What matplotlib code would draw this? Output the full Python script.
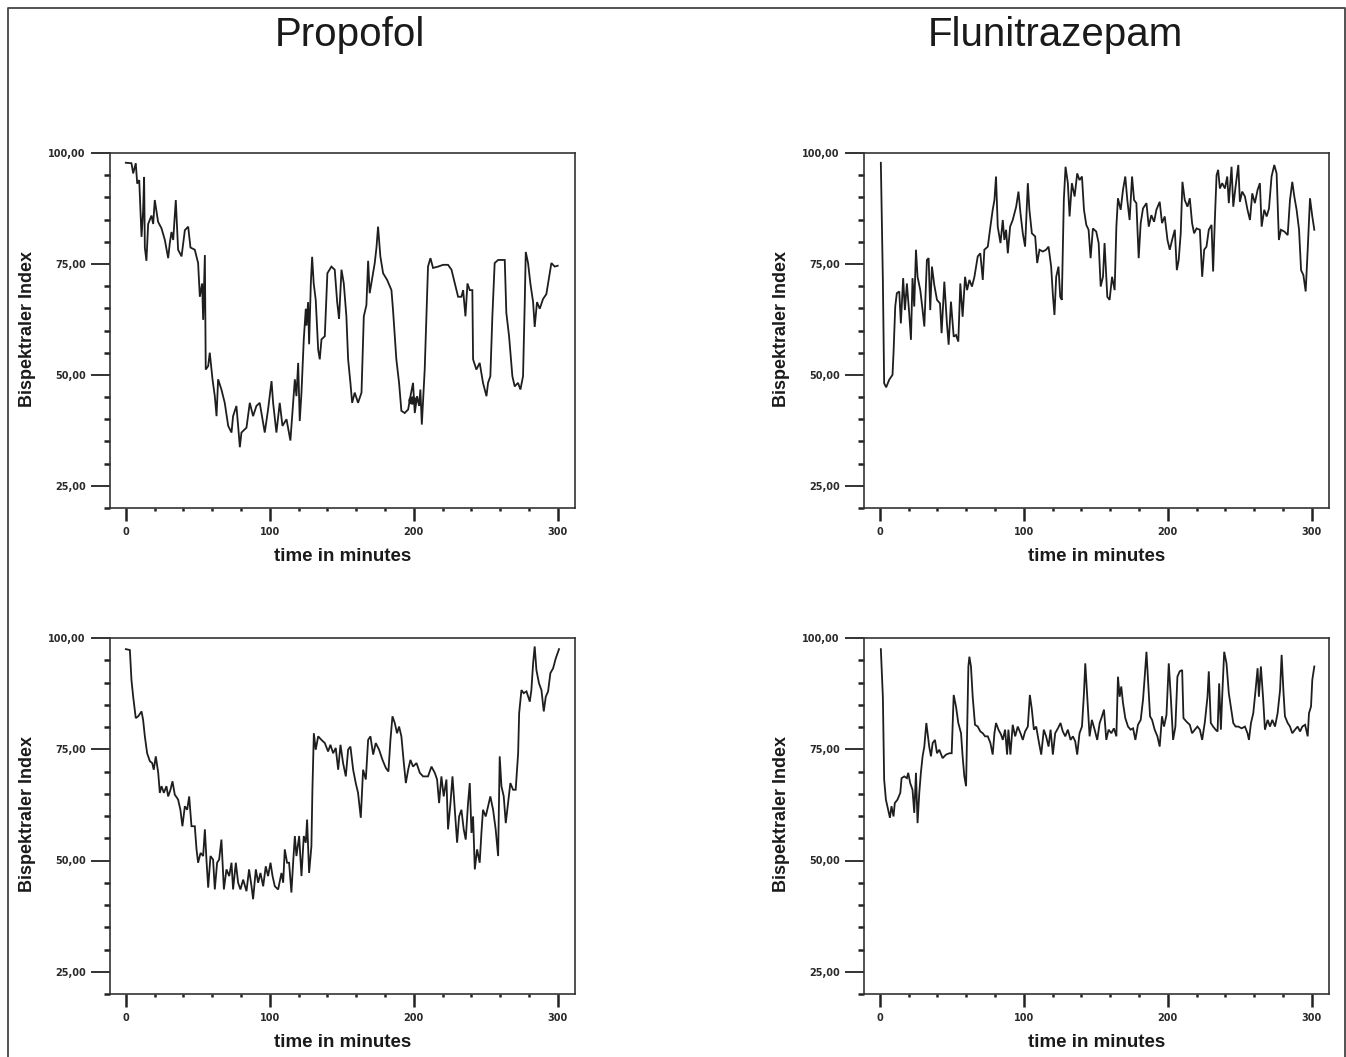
import numpy as np
import matplotlib
matplotlib.use("Agg")
import matplotlib.pyplot as plt
from matplotlib.lines import Line2D

# BIS traces (time in minutes, BIS value)
prop_top_t = [0.0, 3.9, 5.1, 6.9, 7.9, 9.3, 10.9, 12.0, 12.7, 13.2,
              14.3, 15.5, 17.8, 19.0, 20.1, 22.4, 24.8, 27.1, 29.4, 30.5,
              31.7, 32.9, 34.7, 36.3, 38.7, 41.0, 43.3, 44.9, 47.9, 50.2,
              51.4, 53.0, 53.7, 54.9, 55.5, 57.2, 58.3, 60.2, 61.8, 63.0,
              64.1, 66.4, 68.7, 71.1, 73.4, 74.5, 76.8, 78.0, 79.2, 80.3,
              83.8, 86.1, 88.4, 90.7, 93.0, 96.5, 98.8, 101.2, 102.3, 104.6,
              106.9, 108.8, 111.6, 114.3, 116.2, 117.4, 118.5, 119.7, 120.8, 122.0,
              123.6, 125.0, 125.5, 126.6, 127.3, 128.5, 129.4, 130.5, 131.9, 133.6,
              134.7, 135.9, 138.2, 140.0, 142.8, 145.1, 146.8, 148.1, 149.8, 151.4,
              153.2, 154.4, 156.0, 157.2, 159.0, 161.3, 163.7, 165.3, 167.1, 168.3,
              169.4, 171.3, 172.9, 174.1, 175.2, 176.8, 178.7, 181.5, 184.5, 185.6,
              187.9, 189.8, 191.4, 193.7, 196.1, 197.7, 199.5, 200.7, 202.3, 203.7,
              204.6, 205.6, 207.6, 208.8, 209.9, 211.6, 213.4, 216.9, 220.4, 223.8,
              226.2, 228.5, 230.8, 233.1, 234.3, 235.9, 237.3, 238.9, 240.7, 241.2,
              243.5, 245.8, 248.1, 250.5, 251.6, 253.2, 254.6, 256.2, 258.6, 263.2,
              264.3, 266.2, 268.5, 270.1, 272.4, 274.1, 275.9, 277.1, 277.8, 279.4,
              281.0, 282.9, 284.0, 285.6, 287.5, 289.8, 292.1, 293.3, 295.6, 297.9,
              300.0]
prop_top_bis = [97.8, 97.7, 95.4, 97.7, 93.1, 93.9, 81.1, 87.0, 94.6, 78.7,
                75.7, 84.0, 85.9, 84.0, 89.4, 84.5, 83.0, 80.4, 76.3, 79.6,
                82.2, 80.4, 89.4, 78.2, 76.7, 82.6, 83.4, 78.7, 78.2, 75.2,
                67.6, 70.6, 62.4, 77.0, 51.2, 52.0, 55.0, 49.0, 45.2, 40.7,
                49.0, 46.7, 43.7, 38.5, 37.0, 40.7, 43.0, 38.5, 33.7, 37.0,
                38.1, 43.7, 40.7, 43.0, 43.7, 37.0, 42.2, 48.6, 43.7, 37.0,
                43.7, 38.5, 40.0, 35.2, 43.7, 49.0, 45.2, 52.7, 39.6, 46.0,
                58.0, 64.9, 61.1, 66.4, 56.9, 70.6, 76.6, 70.6, 66.9, 55.7,
                53.5, 58.0, 58.7, 72.9, 74.4, 73.7, 66.4, 62.6, 73.7, 70.6,
                63.2, 53.5, 48.2, 43.7, 46.0, 43.7, 46.0, 63.2, 65.7, 75.7,
                68.4, 72.1, 75.2, 78.7, 83.4, 76.7, 72.9, 71.4, 69.1, 64.6,
                53.5, 48.2, 41.9, 41.4, 42.2, 45.2, 48.2, 41.4, 45.2, 43.0,
                46.7, 38.8, 51.2, 63.2, 74.4, 76.3, 74.1, 74.4, 74.8, 74.8,
                73.7, 70.6, 67.6, 67.6, 69.1, 63.2, 70.6, 69.1, 69.1, 53.5,
                51.2, 52.7, 48.2, 45.2, 48.2, 49.7, 63.2, 75.2, 75.9, 75.9,
                64.0, 58.7, 49.7, 47.4, 48.2, 46.7, 49.7, 66.4, 77.7, 75.2,
                70.6, 66.4, 60.8, 66.4, 64.9, 67.1, 68.2, 70.6, 75.2, 74.4,
                74.6]
# single marked point on the upper propofol trace
prop_top_mark_t = [198.6]
prop_top_mark_bis = [44.4]

flu_top_t = [0.7, 2.1, 3.0, 4.4, 6.5, 8.8, 9.5, 10.7, 11.8, 13.5,
             14.6, 16.2, 17.4, 18.8, 20.4, 21.6, 22.7, 23.9, 25.1, 26.2,
             28.1, 29.7, 30.9, 32.7, 33.9, 35.0, 36.2, 37.8, 39.7, 41.8,
             42.9, 44.8, 46.6, 47.8, 49.4, 51.3, 52.9, 54.5, 55.9, 57.5,
             59.2, 60.6, 62.2, 64.0, 65.7, 68.0, 69.8, 71.5, 72.6, 75.0,
             76.8, 78.4, 79.6, 80.7, 81.9, 83.8, 85.4, 86.5, 87.7, 88.9,
             90.5, 92.3, 94.7, 96.3, 97.7, 99.3, 100.9, 102.8, 103.9, 105.6,
             107.9, 109.3, 110.9, 113.2, 115.5, 117.2, 119.0, 120.2, 121.3, 122.5,
             124.1, 125.3, 126.4, 127.8, 129.0, 130.6, 131.8, 133.4, 135.3, 137.1,
             138.7, 140.4, 141.8, 143.4, 145.0, 146.4, 148.0, 150.3, 152.0, 153.4,
             155.0, 156.1, 158.0, 159.6, 161.3, 163.1, 164.3, 165.4, 167.3, 168.9,
             170.5, 171.9, 173.5, 175.2, 176.6, 178.2, 179.8, 181.2, 182.8, 185.2,
             186.8, 188.6, 190.5, 192.1, 194.4, 196.0, 197.9, 199.8, 201.4, 203.0,
             204.9, 206.3, 207.6, 209.0, 210.2, 211.8, 213.7, 215.3, 216.9, 218.3,
             220.0, 222.3, 223.9, 225.3, 226.9, 228.5, 230.4, 231.5, 232.7, 233.9,
             235.0, 236.2, 237.8, 239.7, 241.3, 242.4, 244.3, 245.5, 247.1, 249.0,
             250.1, 251.7, 253.6, 255.4, 257.1, 258.7, 260.5, 262.4, 264.0, 265.2,
             267.0, 268.7, 270.3, 272.1, 274.0, 275.6, 277.2, 278.6, 281.0, 283.3,
             284.9, 286.5, 287.9, 289.5, 291.2, 292.6, 294.2, 295.8, 297.2, 298.8,
             300.4, 301.8]
flu_top_bis = [97.8, 71.4, 48.1, 47.2, 48.9, 50.0, 54.9, 65.4, 68.4, 68.8,
               61.6, 71.8, 64.6, 70.6, 63.9, 57.9, 71.8, 65.4, 78.2, 72.1,
               69.1, 64.6, 60.9, 75.9, 76.3, 64.6, 74.4, 70.3, 66.9, 66.1,
               59.4, 71.0, 61.6, 56.8, 66.5, 58.6, 59.0, 57.5, 70.6, 63.1,
               72.1, 69.1, 71.4, 69.9, 72.1, 76.7, 77.4, 71.4, 78.2, 78.9,
               83.4, 87.2, 89.4, 94.7, 83.4, 79.7, 84.9, 80.4, 82.7, 77.4,
               83.4, 84.9, 87.9, 91.3, 86.4, 81.9, 78.9, 93.2, 87.2, 81.9,
               81.2, 75.2, 78.2, 77.8, 78.2, 78.9, 74.4, 68.0, 63.5, 72.1,
               74.4, 67.6, 66.9, 89.4, 96.9, 93.2, 85.7, 93.2, 90.2, 95.4,
               93.9, 94.7, 87.2, 83.8, 82.7, 76.3, 83.0, 82.3, 79.7, 69.9,
               72.1, 79.7, 67.6, 66.9, 72.1, 69.1, 83.4, 89.8, 87.2, 91.7,
               94.7, 89.4, 84.9, 94.7, 89.4, 88.7, 76.3, 84.2, 87.5, 88.7,
               83.4, 86.0, 84.5, 87.2, 89.0, 84.2, 85.7, 80.4, 78.2, 80.4,
               82.7, 73.6, 75.9, 81.9, 93.5, 89.4, 87.9, 89.8, 84.2, 81.9,
               83.0, 82.7, 72.1, 78.2, 78.9, 82.7, 83.8, 73.3, 84.9, 95.0,
               96.2, 92.0, 93.2, 92.0, 94.7, 88.7, 96.9, 87.9, 92.4, 97.3,
               89.0, 91.3, 90.2, 87.2, 84.9, 90.9, 88.7, 91.7, 93.2, 83.4,
               87.2, 85.7, 87.5, 94.7, 97.3, 95.4, 80.4, 82.7, 82.3, 81.5,
               89.4, 93.5, 90.2, 87.2, 82.7, 73.6, 72.5, 68.8, 78.2, 89.8,
               85.7, 82.7]

prop_bot_t = [0.0, 2.8, 3.9, 5.1, 6.9, 8.6, 10.9, 12.0, 13.2, 14.8,
              16.7, 18.3, 19.4, 20.8, 22.5, 23.6, 24.8, 26.4, 28.2, 29.4,
              31.0, 32.4, 34.0, 36.3, 37.9, 39.3, 41.0, 42.6, 44.0, 45.6,
              47.9, 49.1, 50.2, 51.9, 53.7, 54.9, 56.0, 57.2, 58.8, 60.6,
              61.8, 63.4, 64.8, 66.4, 68.1, 69.9, 71.8, 73.4, 74.5, 76.4,
              78.0, 79.6, 81.5, 83.8, 85.6, 87.3, 88.4, 90.3, 91.9, 93.5,
              95.4, 97.2, 98.8, 100.5, 101.9, 103.5, 105.8, 108.1, 109.3, 110.4,
              112.0, 113.4, 115.0, 116.2, 117.4, 118.5, 120.4, 122.0, 123.6, 125.0,
              125.9, 127.3, 128.9, 129.6, 130.6, 131.9, 133.6, 135.9, 138.2, 140.5,
              142.1, 144.0, 145.8, 147.5, 149.1, 150.9, 152.8, 154.4, 156.0, 157.9,
              159.7, 161.3, 163.2, 164.8, 166.7, 168.3, 169.9, 171.8, 173.6, 175.9,
              178.3, 180.6, 182.4, 183.8, 185.2, 186.8, 188.4, 189.8, 191.4, 193.1,
              194.5, 196.1, 197.7, 199.5, 201.9, 204.2, 206.5, 209.9, 212.3, 214.6,
              216.2, 217.6, 219.2, 220.8, 222.7, 223.8, 225.5, 226.9, 228.5, 230.1,
              231.5, 233.1, 234.7, 236.1, 237.7, 238.9, 240.1, 241.2, 242.4, 244.0,
              245.8, 247.0, 248.1, 250.0, 251.6, 253.2, 255.1, 256.9, 258.6, 259.7,
              260.9, 262.5, 263.9, 265.5, 267.1, 269.0, 270.8, 272.5, 273.2, 274.8,
              276.4, 278.3, 280.6, 281.7, 282.9, 284.0, 285.2, 287.0, 288.7, 290.3,
              291.7, 293.3, 294.9, 296.8, 298.6, 300.9]
prop_bot_bis = [97.5, 97.3, 90.6, 86.8, 82.0, 82.4, 83.5, 81.6, 77.9, 74.1,
                72.3, 71.9, 70.4, 73.4, 69.7, 65.2, 66.7, 65.2, 66.7, 64.4,
                65.9, 67.8, 64.8, 63.7, 61.4, 57.7, 62.2, 61.4, 64.4, 57.7,
                57.7, 52.5, 49.5, 51.7, 51.0, 57.0, 50.2, 43.9, 51.0, 50.2,
                43.5, 49.5, 50.2, 54.7, 43.5, 48.0, 46.5, 49.5, 43.5, 49.5,
                45.0, 43.5, 45.7, 43.1, 48.0, 44.2, 41.3, 48.0, 45.0, 47.2,
                44.2, 48.7, 46.5, 49.5, 46.5, 44.2, 43.5, 47.2, 45.0, 52.5,
                49.5, 49.5, 42.8, 49.5, 55.5, 51.0, 55.5, 46.5, 55.5, 54.0,
                59.2, 47.2, 53.2, 65.9, 78.6, 74.9, 77.9, 77.1, 76.4, 74.5,
                76.0, 74.1, 75.3, 70.4, 76.0, 71.9, 68.9, 74.9, 75.6, 70.4,
                67.4, 65.2, 59.6, 70.4, 68.2, 77.1, 77.9, 73.8, 76.4, 74.9,
                72.6, 70.8, 70.0, 77.1, 82.4, 80.9, 78.6, 80.1, 77.9, 71.9,
                67.4, 70.4, 72.6, 71.1, 71.9, 69.7, 68.9, 68.9, 71.1, 69.7,
                68.2, 62.9, 68.9, 64.4, 68.2, 57.0, 62.9, 68.9, 61.4, 54.0,
                59.9, 61.4, 57.0, 54.7, 62.9, 67.4, 56.2, 59.9, 48.0, 52.5,
                49.5, 56.2, 61.4, 59.9, 62.2, 64.4, 61.4, 57.0, 51.0, 73.4,
                66.7, 64.4, 58.4, 62.9, 67.4, 65.9, 65.9, 74.1, 83.1, 88.3,
                87.6, 88.0, 85.7, 88.3, 94.3, 98.1, 92.8, 89.8, 88.3, 83.5,
                86.8, 88.0, 92.1, 93.2, 95.4, 97.5]

flu_bot_t = [0.7, 2.1, 3.0, 4.2, 5.8, 7.0, 8.1, 9.5, 10.4, 12.3,
             14.2, 15.1, 17.0, 18.8, 19.7, 21.1, 22.7, 23.9, 25.1, 26.2,
             27.4, 28.5, 29.7, 30.9, 32.3, 33.2, 34.3, 35.5, 36.7, 38.3,
             39.7, 41.3, 43.6, 46.0, 48.3, 49.9, 51.3, 52.9, 54.5, 56.4,
             57.5, 58.7, 59.9, 60.6, 61.5, 62.2, 63.3, 64.5, 66.1, 68.0,
             69.8, 71.5, 73.1, 75.0, 76.8, 78.4, 79.6, 80.7, 82.4, 84.2,
             85.4, 87.0, 88.4, 89.3, 90.7, 92.3, 94.0, 95.8, 97.7, 99.3,
             100.9, 102.8, 104.2, 105.6, 107.0, 108.6, 110.2, 112.1, 113.9, 115.5,
             117.2, 118.6, 120.2, 121.8, 123.7, 125.5, 127.1, 128.8, 130.6, 132.5,
             134.1, 135.7, 137.1, 138.7, 140.4, 141.8, 142.7, 144.1, 145.7, 147.3,
             149.2, 151.0, 152.7, 154.3, 155.7, 157.3, 158.9, 160.8, 162.6, 164.3,
             165.4, 166.6, 167.7, 168.9, 170.5, 172.4, 174.2, 175.9, 177.5, 179.3,
             181.2, 182.8, 184.0, 185.2, 186.3, 187.7, 189.1, 190.9, 192.8, 194.4,
             196.0, 197.4, 199.1, 200.7, 202.1, 203.7, 205.3, 206.7, 208.3, 210.0,
             210.9, 213.0, 215.3, 216.9, 218.8, 220.6, 222.3, 223.9, 225.8, 227.6,
             228.5, 229.9, 231.5, 233.2, 234.6, 235.7, 236.9, 237.8, 239.2, 240.8,
             242.4, 243.8, 245.5, 247.1, 249.0, 251.3, 253.6, 255.4, 256.4, 257.8,
             259.4, 261.0, 262.4, 263.3, 264.7, 266.3, 267.5, 269.4, 271.0, 272.6,
             274.5, 276.3, 278.0, 279.1, 280.3, 281.4, 283.3, 284.9, 286.5, 288.4,
             290.2, 291.9, 293.5, 295.4, 297.2, 298.1, 299.5, 300.4, 301.8]
flu_bot_bis = [97.5, 86.8, 68.2, 63.7, 61.4, 59.6, 62.2, 59.9, 62.9, 63.7,
               65.2, 68.5, 68.9, 68.5, 69.7, 67.4, 65.9, 60.7, 69.7, 58.4,
               65.2, 69.7, 73.4, 75.6, 80.9, 78.6, 75.6, 73.4, 76.4, 77.1,
               74.1, 74.9, 73.0, 73.8, 74.1, 74.1, 87.2, 84.6, 80.9, 78.6,
               73.4, 68.9, 66.7, 78.6, 93.6, 95.8, 93.6, 86.8, 80.5, 80.1,
               79.0, 78.6, 77.9, 77.9, 76.4, 73.8, 78.6, 80.9, 79.4, 78.3,
               77.1, 79.4, 73.8, 79.4, 73.8, 80.5, 77.9, 80.1, 78.6, 77.1,
               79.0, 80.1, 87.2, 83.9, 79.4, 80.1, 77.1, 73.8, 79.4, 77.9,
               75.6, 79.4, 73.8, 78.6, 79.7, 80.9, 79.0, 77.9, 79.4, 77.1,
               77.9, 76.8, 73.8, 78.6, 80.1, 87.6, 94.3, 86.8, 77.9, 81.6,
               79.4, 77.1, 80.9, 82.4, 83.9, 77.1, 79.4, 78.6, 79.7, 77.9,
               91.3, 86.8, 89.1, 85.4, 82.0, 80.1, 79.4, 79.7, 77.1, 80.5,
               81.6, 86.1, 91.3, 96.9, 90.6, 82.4, 81.6, 79.4, 77.9, 75.6,
               82.4, 80.1, 82.7, 94.3, 86.8, 77.1, 80.1, 91.3, 92.5, 92.8,
               82.0, 81.2, 80.5, 78.6, 79.4, 80.1, 79.4, 77.1, 81.2, 86.8,
               92.5, 80.9, 80.1, 79.4, 79.0, 89.8, 79.4, 86.8, 96.9, 94.3,
               87.6, 84.6, 80.9, 80.1, 80.1, 79.7, 80.1, 78.6, 77.1, 80.9,
               83.1, 88.3, 93.2, 86.8, 93.6, 86.1, 79.4, 81.6, 80.1, 81.6,
               80.1, 83.1, 88.3, 96.2, 88.3, 82.4, 80.9, 80.1, 78.6, 79.4,
               80.1, 79.0, 80.1, 80.5, 77.9, 83.1, 84.6, 90.6, 93.6]

titles = ["Propofol", "Flunitrazepam"]
xlabel = "time in minutes"
ylabel = "Bispektraler Index"
yticks = [25, 50, 75, 100]
ytick_labels = ["25,00", "50,00", "75,00", "100,00"]
xticks = [0, 100, 200, 300]

W, H = 1346, 1057
fig = plt.figure(figsize=(W / 100, H / 100), dpi=100)
fig.patch.set_facecolor("white")

# axes boxes in pixels: left, top, right, bottom
boxes = [(110, 153, 575, 508), (864, 153, 1329, 508),
         (110, 638, 575, 994), (864, 638, 1329, 994)]
series = [(prop_top_t, prop_top_bis), (flu_top_t, flu_top_bis),
          (prop_bot_t, prop_bot_bis), (flu_bot_t, flu_bot_bis)]

ink = "#1e1e1e"
for i, (box, (t, bis)) in enumerate(zip(boxes, series)):
    l, tp, r, b = box
    ax = fig.add_axes([l / W, 1 - b / H, (r - l) / W, (b - tp) / H])
    ax.plot(t, bis, color=ink, lw=1.3, solid_joinstyle="miter")
    if i == 0:
        ax.plot(prop_top_mark_t, prop_top_mark_bis, "o", color=ink, ms=5)
    ax.set_xlim(-11, 312)
    ax.set_ylim(20, 100)
    for s in ax.spines.values():
        s.set_color("#333333")
        s.set_linewidth(1.2)
    ax.set_yticks(yticks)
    ax.set_yticklabels(ytick_labels)
    ax.set_yticks(np.arange(20, 100, 5), minor=True)
    ax.set_xticks(xticks)
    ax.set_xticklabels([str(v) for v in xticks])
    ax.set_xticks(np.arange(20, 300, 20), minor=True)
    ax.tick_params(axis="y", which="major", length=14, width=1.3, pad=3.5,
                   direction="out", color="#222222")
    ax.tick_params(axis="y", which="minor", length=4.5, width=1.8,
                   direction="out", color="#222222")
    ax.tick_params(axis="x", which="major", length=9, width=1.8, pad=5,
                   direction="out", color="#222222")
    ax.tick_params(axis="x", which="minor", length=2.5, width=1.8,
                   direction="out", color="#222222")
    for lab in ax.get_xticklabels() + ax.get_yticklabels():
        lab.set_fontsize(7)
        lab.set_fontweight("bold")
        lab.set_color("#2a2a2a")
    ax.set_xlabel(xlabel, fontsize=13.5, fontweight="bold",
                  family="Liberation Sans", color="#1a1a1a")
    ax.xaxis.set_label_coords(0.5, -0.112)
    ax.set_ylabel(ylabel, fontsize=13, fontweight="bold",
                  family="Liberation Sans", color="#1a1a1a")
    ax.yaxis.set_label_coords(-0.159, 0.505)

# column titles
fig.text(350 / W, 1 - 46 / H, titles[0], fontsize=29, ha="center",
         va="baseline", family="Liberation Sans", color="#1a1a1a")
fig.text(1055 / W, 1 - 46 / H, titles[1], fontsize=29, ha="center",
         va="baseline", family="Liberation Sans", color="#1a1a1a")

# outer frame (open at the bottom, as in the scan)
fig.add_artist(Line2D([8 / W, 8 / W, 1345 / W, 1345 / W],
                      [0, 1 - 8 / H, 1 - 8 / H, 0],
                      transform=fig.transFigure, color="#444444", lw=1.3))

fig.savefig("out.png", dpi=100, facecolor="white")
